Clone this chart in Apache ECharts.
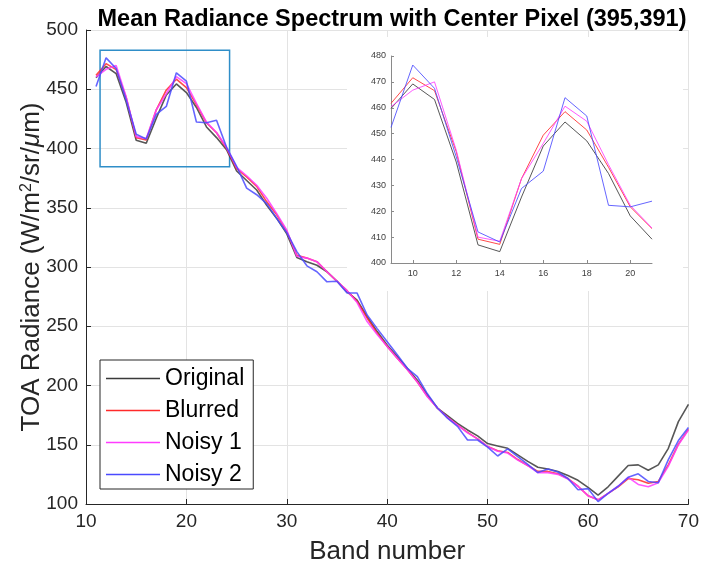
<!DOCTYPE html>
<html>
<head>
<meta charset="utf-8">
<script src="https://cdn.jsdelivr.net/npm/echarts@6/dist/echarts.min.js"></script>
<style>html,body{margin:0;padding:0;background:#fff}#c{width:702px;height:573px}</style>
</head>
<body>
<div id="c"></div>
<script>
// Band numbers (main plot) and band numbers shown in the inset
const bands = [11,12,13,14,15,16,17,18,19,20,21,22,23,24,25,26,27,28,29,30,31,32,33,34,35,36,37,38,39,40,41,42,43,44,45,46,47,48,49,50,51,52,53,54,55,56,57,58,59,60,61,62,63,64,65,66,67,68,69,70];
const insetBands = [9,10,11,12,13,14,15,16,17,18,19,20,21];

const original = [459.7,469.2,463.2,439,407,404.4,425.5,445.2,454.5,447.2,434.6,418.2,409.2,399,381,373,365,352,341,328,308,304.5,301.5,296,288,279,272,258,245.5,234,224.5,214.5,204.5,192,181,174.5,168,162.5,157.5,151,149,147,141.5,136,131,129.5,127.5,124,120,114,107.5,114.5,123.5,132.5,133,128.5,133,147,169.5,184];
const blurred = [461.7,471.6,466.6,443,409.2,407.2,432.6,449.4,458.5,451.4,437,421.7,413.3,400,383,376,368,355,344,330,310,307.5,304.5,296,288,280,271,257,244,233,223,213.5,203,191,181,173,166.5,160.5,155,148.5,145,143.5,137.5,132.5,127.5,127.5,125.5,121.5,115,107,103.5,109,114.5,121.5,120.5,117.5,119,133,150.5,163];
const noisy1 = [460.4,466.8,470,443.6,410,408.4,432.6,446.2,460.6,454.8,438,422.3,413.5,401,384,377,369,358,345,331,309,307.5,304.5,296,288,280,270,254,243,233,223,213.5,203,190.5,181,173,166.5,160,155,148.5,144.5,143,137,132.5,126.5,126.5,125,121,115,107,103.5,109,115,122.5,116.5,114.5,118,132,150,162.5];
const noisy2 = [452.4,476.5,467.5,441,412,408.1,428.8,435.5,463.9,456.8,422.3,421.7,423.9,401,385,366.5,361,353.5,341,329,313,301,296,287.5,288,278,278,259.5,248,237,226,214.5,207.5,193,181,172.5,165.5,154,154,148,140.5,146.5,140,133.5,126.5,129.5,127,121.5,112,113,102,109,115,122.5,125.5,119,118,137.5,153.5,164.5];

const seriesNames = ['Original','Blurred','Noisy 1','Noisy 2'];
const seriesData = [original, blurred, noisy1, noisy2];
const colors = ['#3a3a3a','#ff2a2a','#ff3cff','#4a4aff'];

// zoom rectangle (data coords of main plot)
const zoomBox = {x0: 11.4, x1: 24.3, y0: 384.5, y1: 483};

const insetXTicks = [10,12,14,16,18,20];

const FONT = 'Liberation Sans, Arial, sans-serif';
const chart = echarts.init(document.getElementById('c'), null, {renderer: 'canvas'});

const series = [];
seriesNames.forEach((n, i) => {
  const s = {
    name: n, type: 'line', xAxisIndex: 0, yAxisIndex: 0,
    data: bands.map((b, k) => [b, seriesData[i][k]]),
    showSymbol: false, symbol: 'none',
    lineStyle: {color: colors[i], width: 1.6, opacity: 0.85},
    itemStyle: {color: colors[i]},
    z: 2, animation: false
  };
  if (i === 0) {
    s.markArea = {
      silent: true,
      itemStyle: {color: 'rgba(0,0,0,0)', borderColor: '#2f8ec8', borderWidth: 1.5},
      data: [[{coord: [zoomBox.x0, zoomBox.y1]}, {coord: [zoomBox.x1, zoomBox.y0]}]]
    };
  }
  series.push(s);
});
seriesNames.forEach((n, i) => {
  series.push({
    name: n + '_inset', type: 'line', xAxisIndex: 1, yAxisIndex: 1,
    data: insetBands.map((b, k) => [b, seriesData[i][k]]),
    showSymbol: false, symbol: 'none',
    lineStyle: {color: colors[i], width: 1, opacity: 0.85},
    z: 5, animation: false
  });
});

const option = {
  backgroundColor: '#fff',
  animation: false,
  title: {
    text: 'Mean Radiance Spectrum with Center Pixel (395,391)',
    left: 387, top: 3, textAlign: 'center',
    textStyle: {fontFamily: FONT, fontSize: 23.5, fontWeight: 'bold', color: '#000'}
  },
  legend: {
    data: seriesNames,
    orient: 'vertical', left: 100, top: 360,
    backgroundColor: '#fff', borderColor: '#262626', borderWidth: 1,
    padding: [7, 9, 3, 6],
    itemWidth: 54, itemHeight: 1.5, itemGap: 9, icon: 'rect',
    textStyle: {fontFamily: FONT, fontSize: 23, color: '#000', lineHeight: 22},
    z: 10
  },
  graphic: [{
    type: 'rect', shape: {x: 347, y: 37, width: 336, height: 254},
    style: {fill: '#fff'}, z: 1, silent: true
  }],
  grid: [
    {left: 86, right: 12, top: 30, bottom: 69},
    {left: 391, right: 50, top: 56, bottom: 310}
  ],
  xAxis: [{
    type: 'value', gridIndex: 0, min: 10, max: 70, interval: 10,
    name: 'Band number', nameLocation: 'middle', nameGap: 35, nameMoveOverlap: false,
    nameTextStyle: {fontFamily: FONT, fontSize: 26, color: '#262626'},
    axisLine: {show: true, lineStyle: {color: '#262626', width: 1}},
    axisTick: {show: true, inside: true, length: 5, lineStyle: {color: '#262626'}},
    axisLabel: {fontFamily: FONT, fontSize: 19, color: '#262626', margin: 8},
    splitLine: {show: true, lineStyle: {color: '#e3e3e3', width: 1}},
    z: 0
  }, {
    type: 'value', gridIndex: 1, min: 9, max: 21,
    axisLine: {show: true, onZero: false, lineStyle: {color: '#8a8a8a', width: 1}},
    axisTick: {show: true, inside: true, length: 3, customValues: insetXTicks, lineStyle: {color: '#8a8a8a'}},
    axisLabel: {fontFamily: FONT, fontSize: 9, color: '#404040', margin: 6, customValues: insetXTicks},
    splitLine: {show: false},
    z: 3
  }],
  yAxis: [{
    type: 'value', gridIndex: 0, min: 100, max: 500, interval: 50,
    name: 'TOA Radiance (W/m{sup|2}/sr/{it|μ}m)', nameLocation: 'middle', nameGap: 41, nameMoveOverlap: false,
    nameTextStyle: {fontFamily: FONT, fontSize: 26, color: '#262626',
      rich: {
        sup: {fontFamily: FONT, fontSize: 16, color: '#262626', verticalAlign: 'bottom', padding: [0, 0, 10, 0]},
        it: {fontFamily: FONT, fontSize: 26, fontStyle: 'italic', color: '#262626'}
      }},
    axisLine: {show: true, lineStyle: {color: '#262626', width: 1}},
    axisTick: {show: true, inside: true, length: 5, lineStyle: {color: '#262626'}},
    axisLabel: {fontFamily: FONT, fontSize: 19, color: '#262626', margin: 8},
    splitLine: {show: true, lineStyle: {color: '#e3e3e3', width: 1}},
    z: 0
  }, {
    type: 'value', gridIndex: 1, min: 400, max: 480, interval: 10,
    axisLine: {show: true, onZero: false, lineStyle: {color: '#8a8a8a', width: 1}},
    axisTick: {show: true, inside: true, length: 3, lineStyle: {color: '#8a8a8a'}},
    axisLabel: {fontFamily: FONT, fontSize: 9, color: '#404040', margin: 5},
    splitLine: {show: false},
    z: 3
  }],
  series: series
};
chart.setOption(option);
</script>
</body>
</html>
